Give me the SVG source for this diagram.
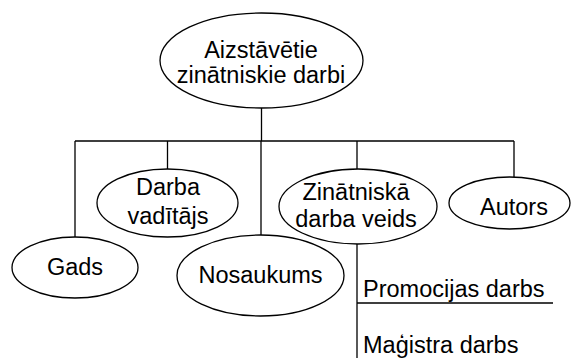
<svg xmlns="http://www.w3.org/2000/svg" width="571" height="358" viewBox="0 0 571 358">
<style>
.n{fill:#fff;stroke:#000;stroke-width:1.3}
.c{fill:none;stroke:#000;stroke-width:1.3}
text{font-family:"Liberation Sans",Arial,sans-serif;font-size:23.5px;fill:#000;text-anchor:middle}
.l{text-anchor:start}
</style>
<rect width="571" height="358" fill="#fff"/>
<g id="connectors">
<path class="c" d="M261.5 108V141M75 141H514M75 141V237M167.5 141V169M261 141V235.5M357 141V169M514 141V177.5M357 244V358M357 303H553"/>
</g>
<g id="root">
<ellipse class="n" cx="261.5" cy="60.5" rx="101.5" ry="47.5"/>
<text x="261" y="58">Aizstāvētie</text>
<text x="261" y="83">zinātniskie darbi</text>
</g>
<g id="gads">
<ellipse class="n" cx="75" cy="267.5" rx="63" ry="30.5"/>
<text x="75" y="275">Gads</text>
</g>
<g id="vaditajs">
<ellipse class="n" cx="167.5" cy="203" rx="70.5" ry="34"/>
<text x="168" y="195">Darba</text>
<text x="168" y="224">vadītājs</text>
</g>
<g id="nosaukums">
<ellipse class="n" cx="260.5" cy="275.5" rx="83.5" ry="40.5"/>
<text x="260.5" y="283">Nosaukums</text>
</g>
<g id="veids">
<ellipse class="n" cx="358" cy="206.5" rx="79" ry="37.5"/>
<text x="356" y="200">Zinātniskā</text>
<text x="356" y="227">darba veids</text>
</g>
<g id="autors">
<ellipse class="n" cx="509.5" cy="203" rx="60.5" ry="26"/>
<text x="514" y="215">Autors</text>
</g>
<g id="promocijas">
<text class="l" x="363" y="297">Promocijas darbs</text>
</g>
<g id="magistra">
<text class="l" x="363" y="353">Maģistra darbs</text>
</g>
</svg>
